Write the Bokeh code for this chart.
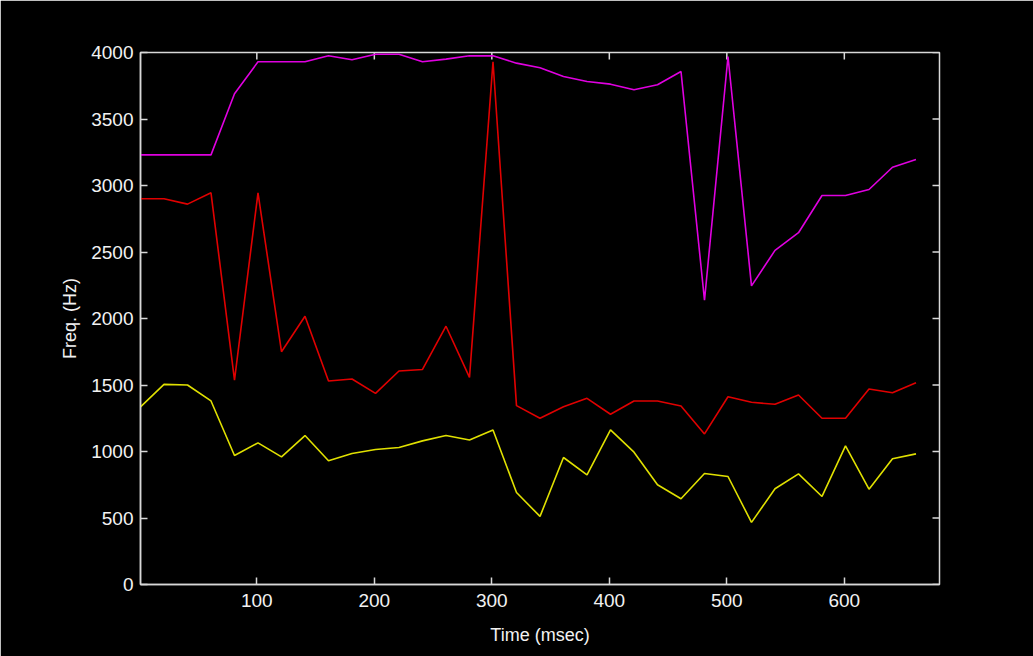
import math
from bokeh.plotting import figure
from bokeh.models import Range1d, LinearAxis, FixedTicker
from bokeh.embed import file_html
from bokeh.resources import INLINE

# Data
time_ms = [1, 21, 41, 61, 81, 101, 121, 141, 161, 181, 201, 221, 241, 261, 281, 301, 321,
           341, 361, 381, 401, 421, 441, 461, 481, 501, 521, 541, 561, 581, 601, 621, 641, 661]
f3_hz = [3230, 3230, 3230, 3230, 3690, 3930, 3930, 3930, 3975, 3945, 3987, 3987, 3930, 3950,
         3975, 3975, 3920, 3885, 3820, 3782, 3762, 3720, 3757, 3857, 2137, 3970, 2245, 2512,
         2645, 2925, 2925, 2970, 3137, 3195]
f2_hz = [2900, 2900, 2860, 2945, 1537, 2945, 1750, 2017, 1530, 1545, 1437, 1605, 1617, 1942,
         1557, 3930, 1345, 1250, 1337, 1400, 1280, 1380, 1380, 1342, 1132, 1412, 1370, 1355,
         1425, 1250, 1250, 1470, 1442, 1517]
f1_hz = [1335, 1505, 1500, 1380, 970, 1065, 960, 1120, 930, 985, 1015, 1030, 1080, 1120,
         1087, 1162, 692, 512, 955, 825, 1162, 995, 750, 645, 835, 812, 467, 720, 832, 662,
         1042, 717, 945, 982]
x_ticks = [100, 200, 300, 400, 500, 600]
y_ticks = [0, 500, 1000, 1500, 2000, 2500, 3000, 3500, 4000]
X_MIN, X_MAX = 1, 681
Y_MIN, Y_MAX = 0, 4000

FONT = "Liberation Sans, Arial, sans-serif"
AX = "#d8d8d8"
TXT = "#f2f2f2"
TICK_LEN = 7

p = figure(width=1033, height=656, output_backend="svg", toolbar_location=None,
           x_range=Range1d(X_MIN, X_MAX), y_range=Range1d(Y_MIN, Y_MAX),
           x_axis_location=None, y_axis_location=None,
           background_fill_color="black", border_fill_color="black",
           min_border_left=140, min_border_right=94, min_border_top=52, min_border_bottom=72)
p.grid.visible = False
p.outline_line_color = AX
p.outline_line_width = 1.5

def style(ax):
    ax.axis_line_color = AX
    ax.axis_line_width = 1.5
    ax.major_tick_line_color = AX
    ax.major_tick_line_width = 1.5
    ax.major_tick_in = TICK_LEN
    ax.major_tick_out = 0
    ax.minor_tick_line_color = None
    ax.major_label_text_color = TXT
    ax.major_label_text_font = FONT
    ax.major_label_text_font_size = "19px"
    ax.axis_label_text_color = TXT
    ax.axis_label_text_font = FONT
    ax.axis_label_text_font_style = "normal"

xb = LinearAxis(ticker=FixedTicker(ticks=x_ticks), axis_label="Time (msec)")
style(xb)
xb.major_label_standoff = 9
xb.axis_label_standoff = 15
xb.axis_label_text_font_size = "18px"
p.add_layout(xb, "below")

yl = LinearAxis(ticker=FixedTicker(ticks=y_ticks), axis_label="Freq. (Hz)")
style(yl)
yl.major_label_standoff = 7
yl.axis_label_standoff = 8
yl.axis_label_text_font_size = "18px"
p.add_layout(yl, "left")

# inward ticks on the top and right edges of the box
p.ray(x=x_ticks, y=[Y_MAX] * len(x_ticks), length=TICK_LEN, length_units="screen",
      angle=-math.pi / 2, line_color=AX, line_width=1.5)
p.ray(x=[X_MAX] * len(y_ticks), y=y_ticks, length=TICK_LEN, length_units="screen",
      angle=math.pi, line_color=AX, line_width=1.5)

p.line(time_ms, f3_hz, line_color="#e000e0", line_width=1.6)
p.line(time_ms, f2_hz, line_color="#e00000", line_width=1.6)
p.line(time_ms, f1_hz, line_color="#e0e000", line_width=1.6)

open("out.html", "w").write(file_html(p, INLINE))
